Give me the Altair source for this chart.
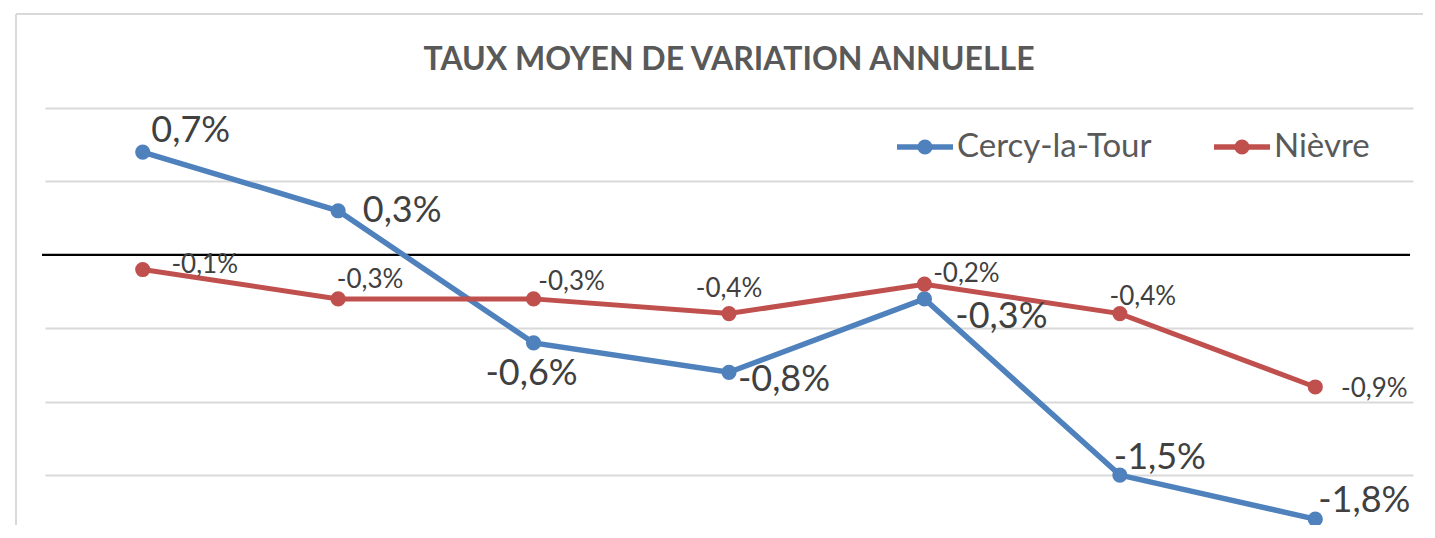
import altair as alt
import pandas as pd

# ---- data ----
periods = ["1968-1975", "1975-1982", "1982-1990", "1990-1999", "1999-2008", "2008-2013", "2013-2019"]
cercy = [0.7, 0.3, -0.6, -0.8, -0.3, -1.5, -1.8]
nievre = [-0.1, -0.3, -0.3, -0.4, -0.2, -0.4, -0.9]
series = ["Cercy-la-Tour", "Nièvre"]
title_text = "TAUX MOYEN DE VARIATION ANNUELLE"
grid_values = [1.0, 0.5, -0.5, -1.0, -1.5]

# ---- styles ----
colors = ["#4F81BD", "#C0504D"]
label_sizes = [36, 26]
line_widths = [5.5, 5]
# label offsets in pixels relative to each point (as placed in the original)
label_dx = [[48, 64, -2, 55, 77, 40, 49], [62, 32, 38, 0, 42, 23, 59]]
label_dy = [[-21, 0, 31, 8, 18, -17, -18], [-5, -19, -17, -25, -10, -17, 2]]
legend_x = [852, 1169]

W, H = 1368, 417
FONT = "Lato"


def fmt(v):
    return f"{v:.1f}%".replace(".", ",")


rows = []
for s, vals in zip(series, [cercy, nievre]):
    for i, (p, v) in enumerate(zip(periods, vals)):
        rows.append({"series": s, "period": p, "value": v, "idx": i, "label": fmt(v)})
df = pd.DataFrame(rows)
one = pd.DataFrame({"zero": [0.0]})

yscale = alt.Scale(domain=[-1.84, 1.0], nice=False, zero=False)
yaxis = alt.Axis(values=grid_values, grid=True, labels=False, ticks=False, domain=False,
                 gridColor="#D9D9D9", gridWidth=2, title=None)
x_enc = alt.X("period:N", sort=periods, scale=alt.Scale(type="point", padding=0.5), axis=None)
y_enc = alt.Y("value:Q", scale=yscale, axis=yaxis)

layers = []

# frame
layers.append(alt.Chart(one).mark_rule(color="#D9D9D9", strokeWidth=2).encode(
    x=alt.value(-29), y=alt.value(-94), y2=alt.value(H + 10)))
layers.append(alt.Chart(one).mark_rule(color="#D9D9D9", strokeWidth=2).encode(
    x=alt.value(-29), x2=alt.value(W + 10), y=alt.value(-94)))

# zero line
layers.append(alt.Chart(one).mark_rule(color="black", strokeWidth=2.2).encode(
    y=alt.Y("zero:Q", scale=yscale, axis=yaxis),
    x=alt.value(-3), x2=alt.value(W - 3)))

# title
layers.append(alt.Chart(one).mark_text(
    text=title_text, font=FONT, fontSize=32, fontWeight="bold", color="#595959",
    align="center", baseline="alphabetic").encode(x=alt.value(W / 2), y=alt.value(-38)))

# series lines + points
for k, s in enumerate(series):
    base = alt.Chart(df).transform_filter(alt.datum.series == s)
    layers.append(base.mark_line(
        color=colors[k], strokeWidth=line_widths[k],
        point=alt.OverlayMarkDef(filled=True, size=230, color=colors[k], opacity=1)
    ).encode(x=x_enc, y=y_enc))

# data labels
for k, s in enumerate(series):
    for i in range(len(periods)):
        layers.append(alt.Chart(df).transform_filter(
            (alt.datum.series == s) & (alt.datum.idx == i)
        ).mark_text(font=FONT, fontSize=label_sizes[k], color="#404040", align="center",
                    baseline="middle", dx=label_dx[k][i], dy=label_dy[k][i]).encode(
            x=x_enc, y=y_enc, text="label:N"))

# legend
for k, s in enumerate(series):
    lx = legend_x[k]
    layers.append(alt.Chart(one).mark_rule(color=colors[k], strokeWidth=5.5).encode(
        x=alt.value(lx), x2=alt.value(lx + 56), y=alt.value(39)))
    layers.append(alt.Chart(one).mark_point(filled=True, size=230, color=colors[k], opacity=1).encode(
        x=alt.value(lx + 28), y=alt.value(39)))
    layers.append(alt.Chart(one).mark_text(
        text=s, font=FONT, fontSize=33, color="#595959", align="left", baseline="middle").encode(
        x=alt.value(lx + 60), y=alt.value(39)))

chart = alt.layer(*layers).properties(
    width=W, height=H,
    autosize=alt.AutoSizeParams(type="none"),
    padding={"left": 37, "top": 100, "right": 10, "bottom": 0},
    background="white",
).configure_view(stroke=None)

chart.save("out.html", embed_options={"renderer": "svg", "actions": False})
